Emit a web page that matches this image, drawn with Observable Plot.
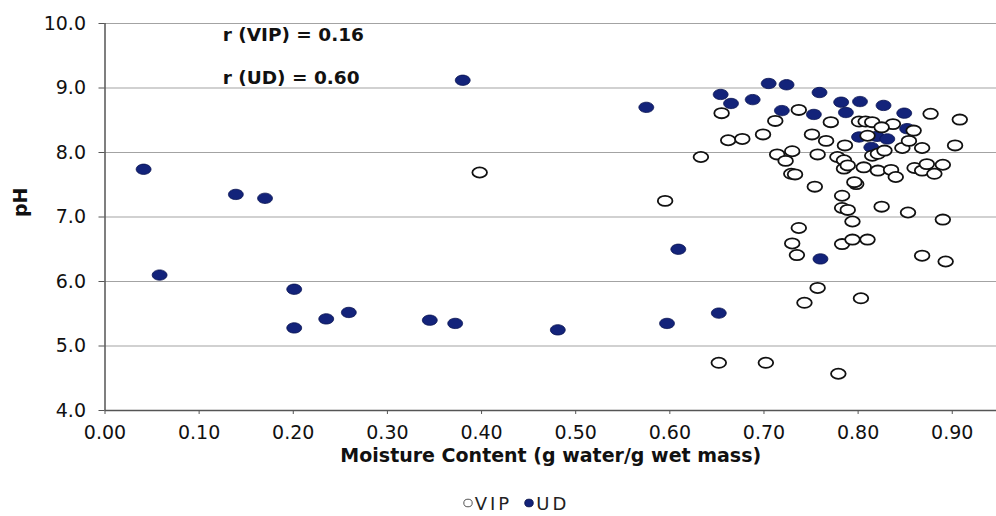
<!DOCTYPE html>
<html>
<head>
<meta charset="utf-8">
<script src="https://cdn.jsdelivr.net/npm/d3@7"></script>
<script src="https://cdn.jsdelivr.net/npm/@observablehq/plot@0.6"></script>
<style>
  html, body { margin: 0; padding: 0; background: #fff; }
  #chart { width: 996px; }
  #legend {
    width: 996px; height: 26px; box-sizing: border-box; padding-left: 36px;
    display: flex; justify-content: center; align-items: center;
    font-family: "DejaVu Sans", sans-serif; font-size: 18px; color: #222; letter-spacing: 3px;
  }
  #legend .item { display: inline-flex; align-items: center; margin: 0 6px; }
  #legend svg { margin-right: 2px; }
</style>
</head>
<body>
<div id="chart"></div>
<div id="legend"></div>
<script>
// ---- Data ----
const seriesNames = ["VIP", "UD"];

const moistureVIP = [0.398, 0.595, 0.655, 0.712, 0.699, 0.662, 0.677, 0.737, 0.751, 0.633,
  0.714, 0.730, 0.723, 0.729, 0.733, 0.757, 0.754, 0.771, 0.801, 0.808,
  0.815, 0.837, 0.859, 0.877, 0.908, 0.766, 0.786, 0.778, 0.785, 0.785,
  0.789, 0.798, 0.806, 0.815, 0.821, 0.835, 0.840, 0.847, 0.854, 0.860,
  0.868, 0.868, 0.873, 0.881, 0.890, 0.903, 0.796, 0.783, 0.810, 0.825,
  0.821, 0.828, 0.783, 0.789, 0.794, 0.825, 0.853, 0.890, 0.737, 0.730,
  0.735, 0.783, 0.794, 0.810, 0.868, 0.893, 0.757, 0.743, 0.803, 0.652,
  0.702, 0.779];
const phVIP = [7.69, 7.25, 8.61, 8.49, 8.28, 8.19, 8.21, 8.66, 8.28, 7.93,
  7.97, 8.02, 7.87, 7.67, 7.66, 7.97, 7.47, 8.47, 8.48, 8.48,
  8.47, 8.44, 8.34, 8.60, 8.51, 8.18, 8.11, 7.93, 7.88, 7.75,
  7.80, 7.51, 7.77, 7.95, 7.72, 7.73, 7.62, 8.07, 8.18, 7.76,
  8.07, 7.72, 7.82, 7.67, 7.81, 8.11, 7.54, 7.33, 8.26, 8.39,
  7.98, 8.03, 7.14, 7.11, 6.93, 7.16, 7.07, 6.96, 6.83, 6.59,
  6.41, 6.58, 6.65, 6.65, 6.40, 6.31, 5.90, 5.67, 5.74, 4.74,
  4.74, 4.57];

const moistureUD = [0.041, 0.058, 0.139, 0.170, 0.201, 0.201, 0.235, 0.259, 0.345, 0.372,
  0.380, 0.481, 0.597, 0.609, 0.652, 0.575, 0.654, 0.665, 0.688, 0.705,
  0.724, 0.759, 0.719, 0.753, 0.782, 0.802, 0.787, 0.827, 0.849, 0.852,
  0.801, 0.820, 0.831, 0.814, 0.760];
const phUD = [7.74, 6.10, 7.35, 7.29, 5.88, 5.28, 5.42, 5.52, 5.40, 5.35,
  9.12, 5.25, 5.35, 6.50, 5.51, 8.70, 8.90, 8.76, 8.82, 9.07,
  9.05, 8.93, 8.65, 8.59, 8.78, 8.79, 8.62, 8.73, 8.61, 8.37,
  8.24, 8.25, 8.21, 8.08, 6.35];

const xTicks = [0, 0.1, 0.2, 0.3, 0.4, 0.5, 0.6, 0.7, 0.8, 0.9];
const yTicks = [4, 5, 6, 7, 8, 9, 10];
const yGrid = [5, 6, 7, 8, 9, 10];

const xTitle = "Moisture Content (g water/g wet mass)";
const yTitle = "pH";
const annotationText = ["r (VIP) = 0.16", "r (UD) = 0.60"];

// ---- Build tables ----
const vip = moistureVIP.map((m, i) => ({ m, ph: phVIP[i] }));
const ud = moistureUD.map((m, i) => ({ m, ph: phUD[i] }));
const annotations = [
  { t: annotationText[0], m: 0.125, ph: 9.82 },
  { t: annotationText[1], m: 0.125, ph: 9.16 }
];

// slightly wide elliptical marker (the reference is horizontally stretched)
const ellipse = {
  draw(ctx, size) {
    const r = Math.sqrt(size / Math.PI);
    const rx = r * 1.18, ry = r * 0.82, k = 0.5523;
    ctx.moveTo(rx, 0);
    ctx.bezierCurveTo(rx, ry * k, rx * k, ry, 0, ry);
    ctx.bezierCurveTo(-rx * k, ry, -rx, ry * k, -rx, 0);
    ctx.bezierCurveTo(-rx, -ry * k, -rx * k, -ry, 0, -ry);
    ctx.bezierCurveTo(rx * k, -ry, rx, -ry * k, rx, 0);
    ctx.closePath();
  }
};

const chart = Plot.plot({
  width: 996,
  height: 490,
  marginTop: 23,
  marginBottom: 80,
  marginLeft: 104.5,
  marginRight: 0,
  style: { fontFamily: "DejaVu Sans, sans-serif", background: "#fff", color: "#111" },
  x: { domain: [0, 0.947] },
  y: { domain: [4, 10] },
  marks: [
    Plot.ruleY(yGrid, { stroke: "#a3a3a3", strokeWidth: 1.2 }),
    Plot.axisY(yTicks, { tickSize: 6, tickPadding: 13, tickFormat: d => d.toFixed(1), fontSize: 19, label: null, stroke: "#555" }),
    Plot.axisX(xTicks, { tickSize: 4, tickPadding: 11, tickFormat: d => d.toFixed(2), fontSize: 19, label: null, stroke: "#555" }),
    Plot.ruleX([0], { stroke: "#555", strokeWidth: 1.5 }),
    Plot.ruleY([4], { stroke: "#555", strokeWidth: 1.5 }),
    Plot.dot(ud, { x: "m", y: "ph", r: 6.3, symbol: ellipse, fill: "#13237a", stroke: "#0a1450", strokeWidth: 0.8 }),
    Plot.dot(vip, { x: "m", y: "ph", r: 6.2, symbol: ellipse, fill: "#fff", stroke: "#111", strokeWidth: 1.8 }),
    Plot.text(annotations, { x: "m", y: "ph", text: "t", textAnchor: "start", fontSize: 18.5, fontWeight: "bold", fill: "#111" }),
    Plot.text([xTitle], { frameAnchor: "bottom", dy: 51, fontSize: 19, fontWeight: "bold", fill: "#111" }),
    Plot.text([yTitle], { frameAnchor: "left", dx: -84, rotate: -90, fontSize: 19, fontWeight: "bold", fill: "#111" })
  ]
});
document.getElementById("chart").appendChild(chart);

// ---- Legend ----
const legend = document.getElementById("legend");
seriesNames.forEach((name, i) => {
  const item = document.createElement("span");
  item.className = "item";
  const filled = i === 1;
  item.innerHTML = `<svg width="10" height="10" viewBox="0 0 10 10"><ellipse cx="5" cy="5" rx="4.2" ry="3.8" fill="${filled ? "#13237a" : "#fff"}" stroke="${filled ? "#0a1450" : "#555"}" stroke-width="1"/></svg>`;
  const label = document.createElement("span");
  label.textContent = name;
  item.appendChild(label);
  legend.appendChild(item);
});
</script>
</body>
</html>
